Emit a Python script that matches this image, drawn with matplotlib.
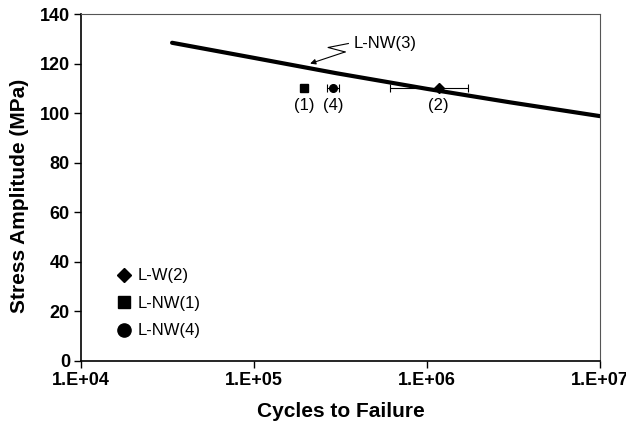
import math

import matplotlib.pyplot as plt
from matplotlib.lines import Line2D
from matplotlib.ticker import FixedLocator, FuncFormatter, NullLocator

plt.rcParams['font.family'] = ['Liberation Sans', 'DejaVu Sans']

# fitted S-N curve, L-NW(3)
curve_n = [3.36e4, 1e5, 3e5, 1e6, 3e6, 1e7]
curve_s = [128.4, 122.3, 116.1, 109.8, 104.4, 98.8]

# test points
lw2_n, lw2_s = 1.17e6, 110
lw2_err = [[1.17e6 - 6.1e5], [1.72e6 - 1.17e6]]
lnw1_n, lnw1_s = 1.95e5, 110
lnw4_n, lnw4_s = 2.87e5, 110
lnw4_err = [[2.87e5 - 2.65e5], [3.11e5 - 2.87e5]]

# squiggle pointer for the curve label
squig_n = [3.51e5, 2.68e5, 3.36e5]
squig_s = [128.1, 126.5, 124.7]
arrow_tip = (2.11e5, 120.0)

fig = plt.figure(figsize=(6.26, 4.25), dpi=100)
ax = fig.add_axes([0.1294, 0.1506, 0.8291, 0.8164])

ax.plot(curve_n, curve_s, 'k-', lw=3, solid_capstyle='round')

ax.errorbar(lw2_n, lw2_s, xerr=lw2_err, fmt='D', color='k', ms=5,
            elinewidth=0.8, capsize=3, capthick=0.8)
ax.plot(lnw1_n, lnw1_s, 's', color='k', ms=5.5)
ax.errorbar(lnw4_n, lnw4_s, xerr=lnw4_err, fmt='o', color='k', ms=5.5,
            elinewidth=0.8, capsize=3, capthick=0.8)

ax.text(lnw1_n, 106, '(1)', ha='center', va='top', fontsize=12)
ax.text(lnw4_n, 106, '(4)', ha='center', va='top', fontsize=12)
ax.text(lw2_n, 106, '(2)', ha='center', va='top', fontsize=12)

ax.plot(squig_n, squig_s, 'k-', lw=0.8)
ax.annotate('', xy=arrow_tip, xytext=(squig_n[-1], squig_s[-1]),
            arrowprops=dict(arrowstyle='-|>', color='k', lw=0.8,
                            mutation_scale=8, shrinkA=0, shrinkB=0))
ax.text(3.75e5, 128.3, 'L-NW(3)', ha='left', va='center', fontsize=12)

ax.set_xscale('log')
ax.set_xlim(1e4, 1e7)
ax.set_ylim(0, 140)
ax.xaxis.set_major_locator(FixedLocator([1e4, 1e5, 1e6, 1e7]))
ax.xaxis.set_minor_locator(NullLocator())
ax.xaxis.set_major_formatter(FuncFormatter(lambda v, p: '1.E+%02d' % round(math.log10(v))))
ax.set_yticks(range(0, 141, 20))

for side in ['left', 'bottom']:
    ax.spines[side].set_linewidth(1.2)
for side in ['top', 'right']:
    ax.spines[side].set_linewidth(0.8)
    ax.spines[side].set_color('#555555')

ax.tick_params(direction='out', length=5, width=1, labelsize=13, pad=3)
for tl in ax.get_xticklabels() + ax.get_yticklabels():
    tl.set_fontweight('bold')

ax.set_xlabel('Cycles to Failure', fontsize=15, fontweight='bold', labelpad=9)
ax.set_ylabel('Stress Amplitude (MPa)', fontsize=15, fontweight='bold')
ax.yaxis.set_label_coords(-0.1, 0.475)

handles = [
    Line2D([], [], ls='none', marker='D', color='k', ms=7),
    Line2D([], [], ls='none', marker='s', color='k', ms=9),
    Line2D([], [], ls='none', marker='o', color='k', ms=9.5),
]
labels = ['L-W(2)', 'L-NW(1)', 'L-NW(4)']
ax.legend(handles, labels, loc='lower left', bbox_to_anchor=(0.05, 0.046),
          frameon=False, fontsize=12, handletextpad=0.25, labelspacing=0.75,
          handlelength=1.2, borderaxespad=0)

fig.savefig('out.png', dpi=100)
